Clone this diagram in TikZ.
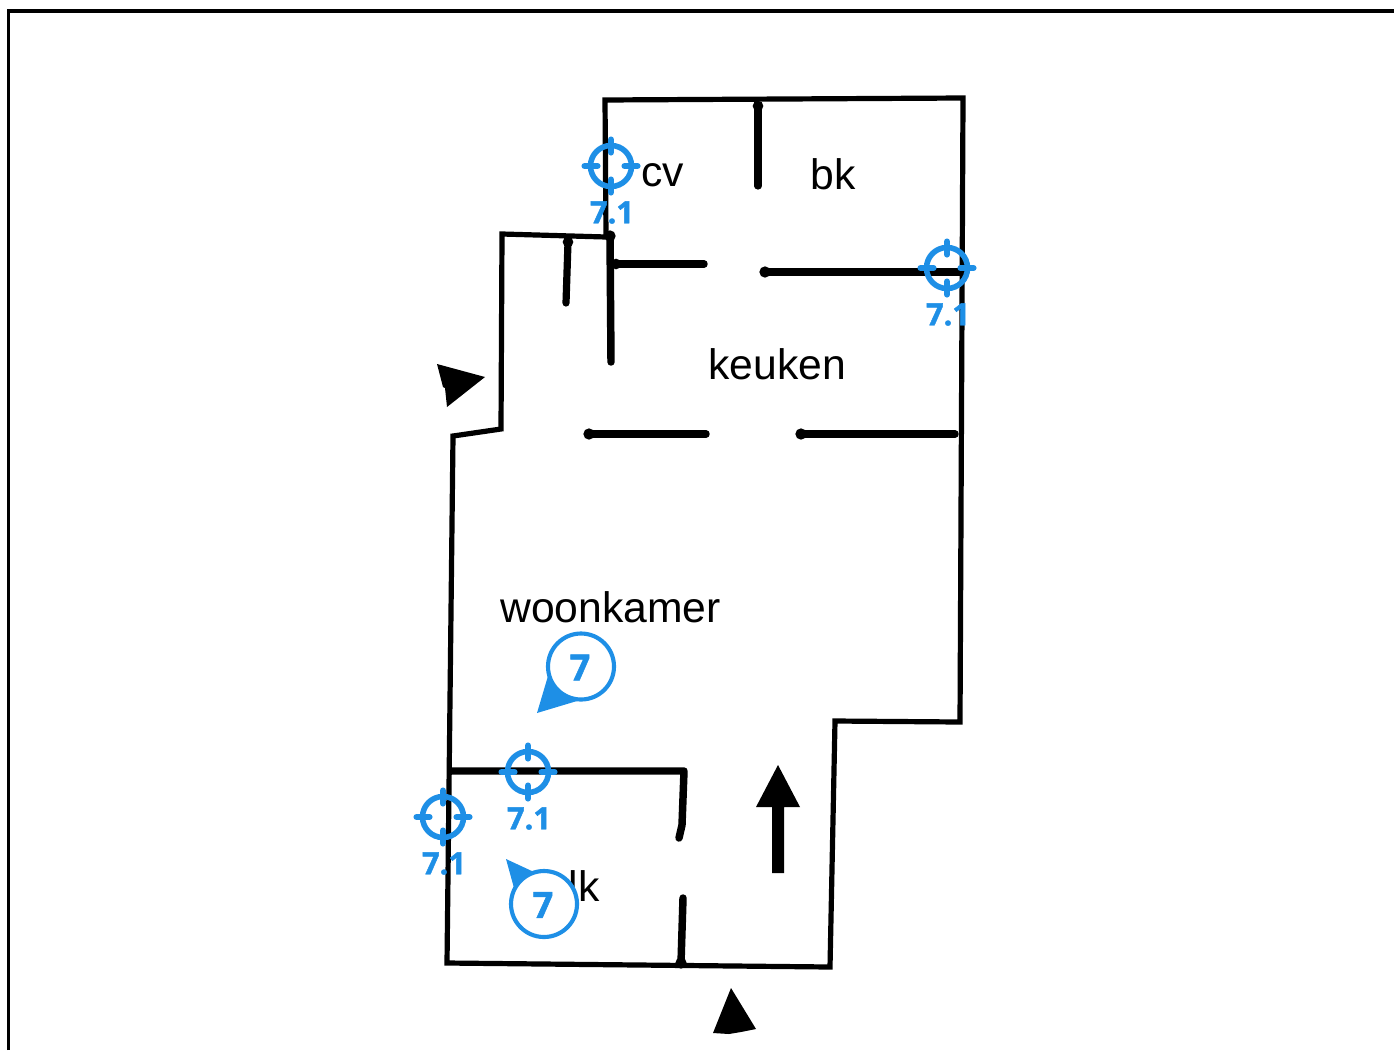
\documentclass[tikz,border=0pt]{standalone}
\usepackage{fontspec}
\setmainfont{Liberation Sans}
\newfontfamily\markfont[BoldFeatures={FakeBold=1.5}]{Open Sans}
\definecolor{markblue}{HTML}{1E8FE6}
\tikzset{
  wall/.style={line width=3.9pt,line join=miter,line cap=round},
  partition/.style={line width=5.6pt,line cap=round,line join=round},
  thinpart/.style={line width=5.4pt,line cap=round,line join=round},
  walldot/.style={circle,fill=black,inner sep=0pt},
  roomlabel/.style={inner sep=0pt,anchor=base west,font=\fontsize{32}{36}\selectfont},
  marktext/.style={inner sep=0pt,text=markblue,font=\markfont\bfseries\fontsize{23}{26}\selectfont},
  calloutnum/.style={inner sep=0pt,text=markblue,font=\markfont\bfseries\fontsize{27}{30}\selectfont},
  ringline/.style={draw=markblue,line width=4.2pt},
  tickline/.style={draw=markblue,line width=4.6pt,line cap=round},
  calloutring/.style={draw=markblue,fill=white,line width=3.1pt},
  pointer/.style={fill=markblue},
  solidhead/.style={fill=black},
  frameline/.style={line width=2.3pt,draw=black}
}
\usetikzlibrary{calc}
\newcommand{\gaugemark}[3]{%
  \coordinate (#1) at (#2,#3);
  \draw[ringline] (#1) circle[radius=20.5];
  \draw[tickline] ($(#1)+(-26.5,0)$) -- ($(#1)+(-13.5,0)$);
  \draw[tickline] ($(#1)+(13.5,0)$) -- ($(#1)+(26.5,0)$);
  \draw[tickline] ($(#1)+(0,-26.5)$) -- ($(#1)+(0,-13.5)$);
  \draw[tickline] ($(#1)+(0,13.5)$) -- ($(#1)+(0,26.5)$);
  \node[marktext] (#1t) at ($(#1)+(1,46.5)$) {7.1};}
\begin{document}
\begin{tikzpicture}[x=0.75pt,y=-0.75pt]
\useasboundingbox (0,0) rectangle (1394,1050);
% frame
\draw[frameline] (8.5,1050) -- (8.5,11) -- (1394,11);
% named corners
\coordinate (a) at (605,100);
\coordinate (b) at (963,98);
\coordinate (c) at (960,722);
\coordinate (d) at (835,721);
\coordinate (e) at (830,967);
\coordinate (f) at (447,963);
\coordinate (g) at (453,436);
\coordinate (h) at (501,429);
\coordinate (i) at (502,234);
\coordinate (j) at (606,237);
% outer wall
\draw[wall] (j) -- (i) -- (h) -- (g) -- (f) -- (e) -- (d) -- (c) -- (b) -- (a) -- (j);
% partitions
\draw[thinpart] (758,106) -- (758,186);
\node[walldot,minimum size=8pt] at (758,106) {};
\draw[partition] (610,237) -- (611,362);
\node[walldot,minimum size=8.5pt] at (610,236) {};
\draw[partition] (614,264) -- (704,264);
\node[walldot,minimum size=8pt] at (616,264) {};
\draw[partition] (765,272) -- (963,272);
\node[walldot,minimum size=8.5pt] at (765,272) {};
\draw[thinpart] (568,242) -- (566,303);
\node[walldot,minimum size=8pt] at (568,242) {};
\draw[partition] (589,434) -- (706,434);
\node[walldot,minimum size=8.5pt] at (589,434) {};
\draw[partition] (801,434) -- (955,434);
\node[walldot,minimum size=8.5pt] at (801,434) {};
\draw[partition] (451,771) -- (684,771) -- (682,825) -- (679,838);
\draw[partition] (683,898) -- (681,963);
\node[walldot,minimum size=8.5pt] at (681,963) {};
% arrows
\fill[solidhead] (778,765) -- (800,807) -- (784,807) -- (784,873) -- (772,873) -- (772,807) -- (756,807) -- cycle;
\fill[solidhead] (437,364) -- (485,377) -- (447,407) -- (445,388) -- (443,387) -- cycle;
\fill[solidhead] (731,988) -- (756,1029) -- (741,1032) -- (729,1034) -- (713,1033) -- cycle;
% room labels
\node[roomlabel] (cv) at (641,186) {cv};
\node[roomlabel] (bk) at (810,189) {bk};
\node[roomlabel] (keuken) at (708,379) {keuken};
\node[roomlabel] (woonkamer) at (500,622) {woonkamer};
\node[roomlabel] (lk) at (568.5,901) {lk};
% gauges
\gaugemark{gA}{611}{166}
\gaugemark{gB}{947}{268}
\gaugemark{gC}{528}{772}
\gaugemark{gD}{443}{817}
% callouts
\fill[pointer] (548,676) -- (537,713) -- (577,701) -- cycle;
\node[calloutring,circle,minimum size=49.5pt,inner sep=0pt] (c7a) at (581,666.5) {};
\node[calloutnum] (n7a) at (580,667.5) {7};
\fill[pointer] (514,888) -- (506,859) -- (534,872) -- cycle;
\node[calloutring,circle,minimum size=49.5pt,inner sep=0pt] (c7b) at (544,904) {};
\node[calloutnum] (n7b) at (543,905) {7};
\end{tikzpicture}
\end{document}
